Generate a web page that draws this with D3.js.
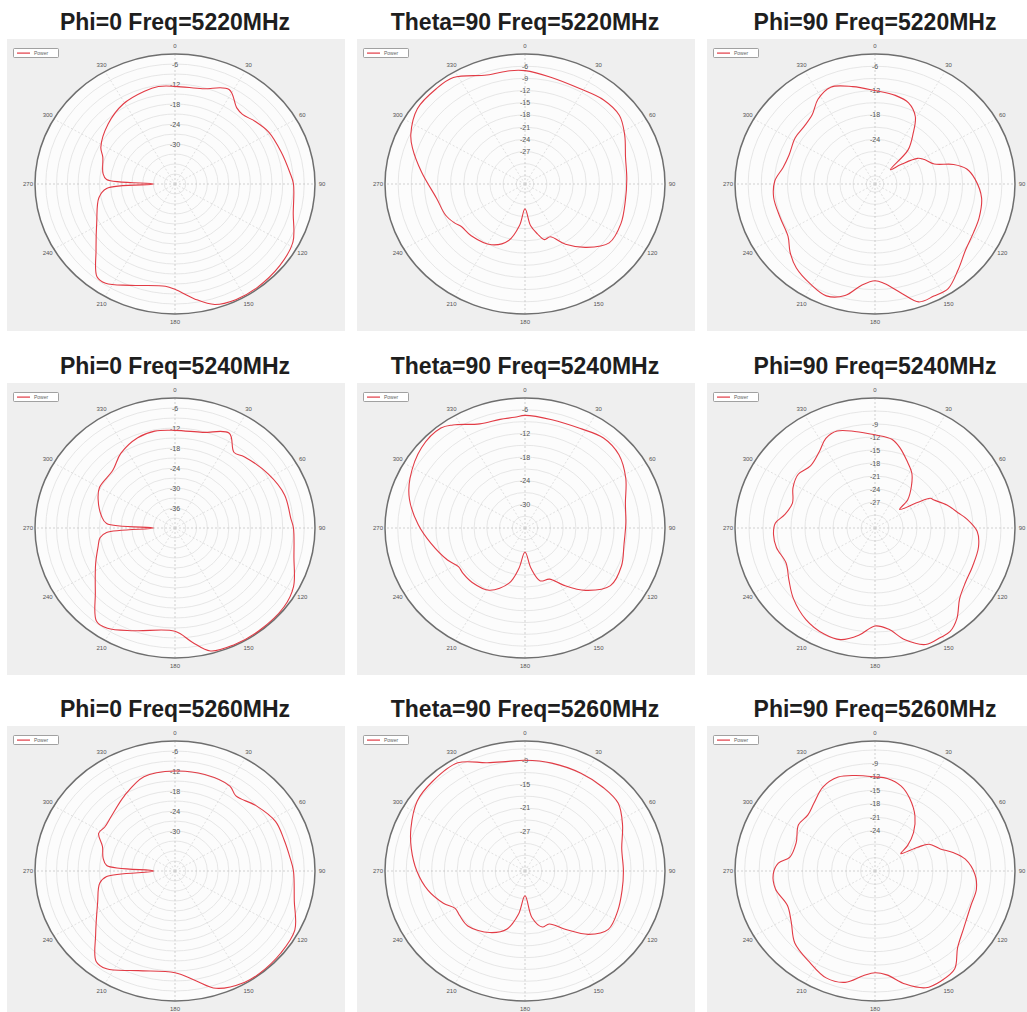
<!DOCTYPE html>
<html>
<head>
<meta charset="utf-8">
<script src="https://cdn.jsdelivr.net/npm/d3@7"></script>
<style>
body { margin: 0; background: #fff; }
svg { display: block; font-family: "Liberation Sans", Arial, sans-serif; }
</style>
</head>
<body>
<svg id="chart" width="1027" height="1012"></svg>
<script>
// --- data: [angle deg (clockwise from top), gain dB] ---
const phi0_5220 = [[0,-12.7],[15,-12.4],[28,-9.9],[37,-13.4],[42,-13.9],[50,-12.8],[59,-11.6],[72,-10.9],[84,-9.8],[90,-9.0],[105,-7.9],[118,-4.8],[130,-3.9],[144,-3.4],[154,-3.4],[163,-4.2],[171,-7.1],[180,-10.4],[185,-11.2],[202,-9.2],[213,-6.5],[218,-6.7],[228,-12.4],[242,-17.3],[259,-20.4],[266,-22.9],[270,-36],[274,-22.9],[279,-21.7],[292,-20.3],[298,-18.6],[314,-16.1],[329,-14.0],[343,-12.9],[351,-12.4]];
const theta90_5220 = [[0,-7.1],[13,-8.1],[28,-8.4],[41,-7.6],[52,-7.6],[62,-9.2],[74,-11.1],[87,-11.7],[100,-11.7],[114,-11.0],[127,-10.9],[138,-14.0],[148,-17.5],[156,-20.8],[162,-20.6],[167,-22.4],[173,-24.7],[180,-28.9],[187,-24.7],[195,-20.6],[207,-18.2],[224,-17.3],[234,-17.1],[239,-16.3],[247,-15.3],[260,-14.5],[277,-11.2],[289,-7.8],[295,-6.2],[307,-4.2],[319,-4.0],[328,-4.1],[342,-6.8],[353,-6.9]];
const phi90_5220 = [[0,-12.0],[12,-12.7],[21,-13.6],[29,-16.0],[35,-19.8],[42,-23.7],[45,-30.0],[51,-27.4],[57,-23.4],[62,-22.2],[70,-20.6],[75,-16.4],[80,-13.7],[87,-12.1],[98,-10.4],[109,-9.8],[118,-9.5],[128,-8.7],[138,-6.6],[147,-4.3],[154,-4.3],[161,-4.3],[167,-7.3],[175,-10.4],[180,-11.2],[187,-9.9],[194,-6.7],[202,-5.3],[211,-6.3],[221,-7.6],[229,-9.3],[237,-11.3],[249,-11.8],[262,-11.6],[272,-12.1],[281,-13.6],[290,-14.1],[302,-13.5],[311,-13.5],[320,-12.7],[328,-10.4],[337,-9.1],[348,-10.5]];

const phi0_5240 = [[0,-12.7],[15,-12.3],[28,-9.8],[36,-14.0],[42,-13.2],[58,-11.4],[72,-9.9],[85,-9.6],[90,-9.0],[105,-7.7],[118,-4.6],[128,-3.5],[143,-3.3],[155,-3.3],[165,-3.8],[172,-7.4],[180,-11.0],[200,-9.2],[212,-6.5],[218,-6.5],[229,-12.6],[244,-17.4],[255,-19.8],[262,-20.9],[266,-22.9],[270,-36],[274,-22.9],[280,-21.2],[292,-18.9],[300,-17.7],[315,-17.5],[326,-15.0],[339,-13.0],[349,-12.4]];
const theta90_5240 = [[0,-7.4],[13,-7.8],[27,-7.6],[39,-6.6],[50,-7.1],[62,-9.1],[75,-11.5],[87,-12.2],[100,-12.3],[113,-11.3],[126,-11.1],[138,-14.7],[148,-18.9],[156,-21.8],[165,-22.1],[172,-25.6],[180,-29.9],[188,-25.6],[195,-21.5],[208,-18.1],[222,-17.4],[232,-17.4],[238,-17.5],[246,-16.0],[260,-13.5],[272,-10.8],[285,-7.8],[295,-6.1],[310,-4.2],[322,-3.8],[327,-4.8],[338,-7.5],[348,-7.8],[355,-7.8]];
const phi90_5240 = [[0,-11.5],[10,-12.2],[16,-13.7],[24,-16.1],[32,-18.1],[39,-20.6],[47,-23.4],[51,-26.2],[57,-22.2],[60,-19.3],[63,-18.8],[71,-16.7],[79,-14.8],[84,-13.2],[92,-11.1],[101,-10.4],[113,-10.3],[123,-9.9],[132,-8.6],[140,-5.7],[146,-4.2],[151,-4.1],[158,-4.0],[166,-6.4],[173,-9.5],[180,-10.4],[188,-8.0],[196,-6.2],[204,-6.2],[215,-7.2],[227,-9.1],[237,-11.0],[247,-12.3],[258,-11.4],[266,-11.2],[273,-11.6],[279,-13.4],[288,-14.4],[298,-13.1],[307,-12.4],[316,-13.1],[326,-11.7],[333,-9.8],[340,-9.2],[349,-10.3]];

const phi0_5260 = [[0,-12.0],[16,-11.9],[31,-12.3],[37,-13.8],[49,-12.1],[62,-10.3],[73,-10.2],[83,-9.7],[90,-9.0],[105,-7.6],[118,-4.2],[130,-3.6],[142,-3.3],[150,-3.4],[162,-5.0],[170,-8.6],[180,-11.5],[199,-10.4],[213,-7.0],[219,-7.1],[229,-12.7],[246,-18.4],[260,-20.7],[265,-22.9],[270,-36],[275,-22.9],[281,-21.6],[290,-20.5],[298,-17.9],[304,-18.4],[313,-17.8],[328,-15.4],[343,-12.4]];
const theta90_5260 = [[0,-8.9],[13,-8.9],[28,-8.9],[41,-8.9],[52,-9.1],[63,-11.2],[76,-13.5],[90,-13.8],[102,-13.6],[115,-12.9],[127,-12.4],[137,-15.0],[147,-19.3],[157,-22.4],[164,-22.2],[172,-25.0],[180,-30.7],[188,-25.9],[196,-21.7],[208,-19.3],[224,-17.6],[234,-17.9],[240,-18.0],[247,-16.1],[258,-13.6],[270,-11.5],[282,-9.6],[292,-8.0],[305,-6.0],[316,-5.5],[330,-5.3],[342,-8.1],[352,-8.9]];
const phi90_5260 = [[0,-12.0],[7,-12.2],[16,-13.3],[24,-15.3],[34,-18.2],[43,-21.3],[50,-24.2],[54,-26.4],[59,-22.7],[62,-20.3],[70,-18.6],[76,-16.2],[82,-14.1],[92,-12.3],[101,-11.6],[111,-11.7],[125,-10.6],[135,-8.8],[143,-5.6],[151,-4.9],[158,-4.9],[166,-7.0],[174,-9.7],[180,-10.3],[186,-9.5],[194,-7.4],[203,-7.1],[214,-8.6],[226,-9.9],[237,-12.3],[247,-13.3],[259,-12.0],[268,-11.9],[275,-12.9],[280,-15.1],[291,-15.5],[303,-14.1],[312,-14.3],[320,-13.3],[330,-11.4],[340,-10.7],[349,-11.3]];

const freqs = ["5220", "5240", "5260"];
const cuts = ["Phi=0", "Theta=90", "Phi=90"];
const series = [
    [phi0_5220, theta90_5220, phi90_5220],
    [phi0_5240, theta90_5240, phi90_5240],
    [phi0_5260, theta90_5260, phi90_5260]
];
// radial range (centre, outer ring) and labels shown on each panel
const rDomains = [
    [[-42, -3], [-35, -3], [-35, -3]],
    [[-42, -3], [-36, -3], [-33, -3]],
    [[-42, -3], [-37, -4], [-33, -4]]
];
const rTicks = [
    [[-6, -12, -18, -24, -30], [-6, -9, -12, -15, -18, -21, -24, -27], [-6, -12, -18, -24]],
    [[-6, -12, -18, -24, -30, -36], [-6, -12, -18, -24, -30], [-9, -12, -15, -18, -21, -24, -27]],
    [[-6, -12, -18, -24, -30], [-9, -15, -21, -27], [-9, -12, -15, -18, -21, -24]]
];
const angleTicks = d3.range(0, 360, 30);

// --- layout ---
const colX = [7, 357, 707], rowY = [39, 383, 726];
const panelW = 338, panelH = 292;
const R = 140, KY = 130 / 140;   // the source plots are slightly squashed vertically
const rad = a => a * Math.PI / 180;

const svg = d3.select("#chart");

series.forEach((row, i) => {
    row.forEach((data, j) => {
        const x0 = colX[j], y0 = rowY[i];
        const cx = x0 + 168, cy = y0 + 145;
        const dom = rDomains[i][j];
        const r = d3.scaleLinear().domain(dom).range([0, R]).clamp(true);
        const px = (a, v) => r(v) * Math.sin(rad(a));
        const py = (a, v) => -r(v) * Math.cos(rad(a)) * KY;

        // title
        svg.append("text")
            .attr("x", cx).attr("y", y0 - 9)
            .attr("text-anchor", "middle")
            .attr("font-size", 23).attr("font-weight", "bold")
            .attr("fill", "#1e1e1e")
            .text(`${cuts[j]} Freq=${freqs[i]}MHz`);

        svg.append("rect")
            .attr("x", x0).attr("y", y0)
            .attr("width", panelW).attr("height", panelH)
            .attr("fill", "#efefef");

        const g = svg.append("g").attr("transform", `translate(${cx},${cy})`);

        g.append("ellipse").attr("rx", R).attr("ry", R * KY).attr("fill", "#fcfcfc");

        // rings every 3 dB
        const rings = d3.range(Math.ceil((dom[0] + 0.5) / 3) * 3, dom[1], 3);
        g.selectAll(".ring").data(rings).join("ellipse")
            .attr("rx", d => r(d)).attr("ry", d => r(d) * KY)
            .attr("fill", "none").attr("stroke", "#dcdcdc").attr("stroke-width", 0.7);

        // spokes
        g.selectAll(".spoke").data(angleTicks).join("line")
            .attr("x1", 0).attr("y1", 0)
            .attr("x2", d => R * Math.sin(rad(d)))
            .attr("y2", d => -R * KY * Math.cos(rad(d)))
            .attr("stroke", d => d % 90 === 0 ? "#bdbdbd" : "#d4d4d4")
            .attr("stroke-width", 0.7)
            .attr("stroke-dasharray", "2,2");

        g.append("ellipse").attr("rx", R).attr("ry", R * KY)
            .attr("fill", "none").attr("stroke", "#6e6e6e").attr("stroke-width", 1.5);

        // radial labels up the 0 deg axis
        g.selectAll(".rlab").data(rTicks[i][j]).join("text")
            .attr("x", 0).attr("y", d => -r(d) * KY)
            .attr("text-anchor", "middle").attr("dominant-baseline", "central")
            .attr("font-size", 7).attr("fill", "#555")
            .text(d => d);

        // pattern
        const line = d3.line()
            .x(d => px(d[0], d[1]))
            .y(d => py(d[0], d[1]))
            .curve(d3.curveCatmullRomClosed.alpha(0.5));
        g.append("path").datum(data)
            .attr("d", line)
            .attr("fill", "none").attr("stroke", "#e23b45").attr("stroke-width", 1.1);

        // angle labels
        g.selectAll(".alab").data(angleTicks).join("text")
            .attr("x", d => (R + 7) * Math.sin(rad(d)))
            .attr("y", d => -(R * KY + 8) * Math.cos(rad(d)))
            .attr("text-anchor", "middle").attr("dominant-baseline", "central")
            .attr("font-size", 6).attr("fill", "#555")
            .text(d => d);

        // legend
        const lg = svg.append("g").attr("transform", `translate(${x0 + 6},${y0 + 9})`);
        lg.append("rect").attr("x", 0.5).attr("y", 0.5).attr("width", 45).attr("height", 9)
            .attr("fill", "#fff").attr("stroke", "#8a8a8a").attr("stroke-width", 0.8).attr("rx", 1);
        lg.append("rect").attr("x", 4).attr("y", 4.5).attr("width", 13).attr("height", 1.2)
            .attr("fill", "#e23b45");
        lg.append("text").attr("x", 21).attr("y", 7)
            .attr("font-size", 5).attr("fill", "#666").text("Power");
    });
});
</script>
</body>
</html>
